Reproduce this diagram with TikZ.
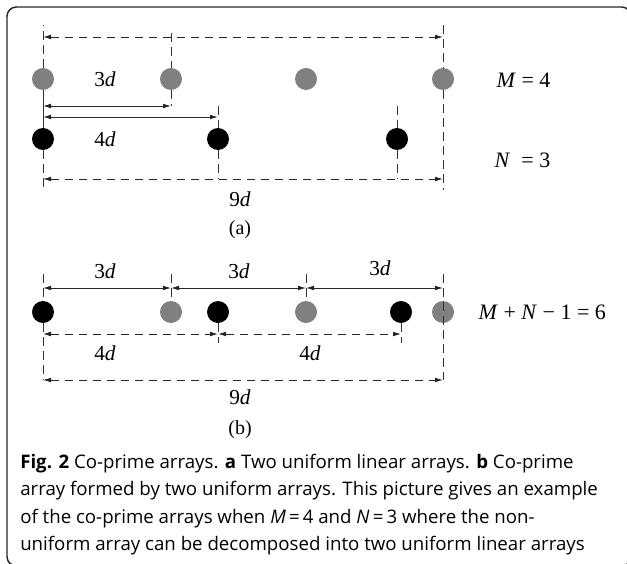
\documentclass[tikz,border=0pt]{standalone}
\usepackage{fontspec}
\setmainfont{Liberation Serif}
\newfontfamily\capfont{Open Sans}
\usetikzlibrary{arrows.meta}

\begin{document}
\begin{tikzpicture}[x=0.75pt, y=-0.75pt,
    elem/.style={circle, inner sep=0pt, minimum size=16.5pt},
    gry/.style={elem, fill=black!50},
    blk/.style={elem, fill=black},
    dim/.style={{Latex[length=6pt,width=3.6pt]}-{Latex[length=6pt,width=3.6pt]}, line width=0.7pt, black!85},
    dimd/.style={dim, dash pattern=on 6.5pt off 4pt},
    guide/.style={line width=0.7pt, dash pattern=on 6.5pt off 4pt, black!80},
    lbl/.style={font=\fontsize{16}{18}\selectfont},
    sub/.style={font=\fontsize{15}{17}\selectfont},
    eqn/.style={font=\fontsize{16.5}{18}\selectfont, anchor=west},
    captxt/.style={font=\capfont\fontsize{14}{16}\selectfont, anchor=base west, inner sep=0pt}
]
    \useasboundingbox (0,0) rectangle (627,563);
    \draw[line width=1.1pt, black!85, rounded corners=7pt] (7,7) rectangle (631,566);

    % (a) two uniform arrays
    \node[gry] (ga1) at (43,79) {};
    \node[gry] (ga2) at (171,79) {};
    \node[gry] (ga3) at (306,79) {};
    \node[gry] (ga4) at (443,79) {};
    \node[blk] (ba1) at (43,139) {};
    \node[blk] (ba2) at (218,139) {};
    \node[blk] (ba3) at (397,139) {};

    \coordinate (aTop) at (0,25);
    \coordinate (aHi) at (0,33);
    \coordinate (aArr) at (0,37);
    \coordinate (aThree) at (0,106);
    \coordinate (aFour) at (0,117);
    \coordinate (aNine) at (0,179);
    \coordinate (aBot) at (0,190);

    \draw[guide] (ga1.north) -- (ga1 |- aTop);
    \draw[line width=0.7pt, black!80] (ga1.south) -- (ba1.north);
    \draw[guide] (ba1.south) -- (ba1 |- aBot);
    \draw[guide] (ga2 |- aHi) -- (ga2.north);
    \draw[guide] (ga2.south) -- (ga2 |- aThree);
    \draw[guide] (ba2 |- aThree) -- (ba2.north);
    \draw[guide] (ba2.south) -- (ba2 |- aNine);
    \draw[guide] (ba3 |- aThree) -- (ba3.north);
    \draw[guide] (ba3.south) -- (ba3 |- aNine);
    \draw[guide] (ga4 |- aTop) -- (ga4.north);
    \draw[guide] (ga4.south) -- (ga4 |- aBot);

    \draw[dimd] (ga1 |- aArr) -- (ga4 |- aArr);
    \draw[dim] (ga1 |- aThree) -- (ga2 |- aThree);
    \draw[dim] (ba1 |- aFour) -- (ba2 |- aFour);
    \draw[dimd] (ba1 |- aNine) -- (ga4 |- aNine);

    \node[lbl] (la3) at (105,79) {3\textit{d}};
    \node[lbl] (la4) at (105,139) {4\textit{d}};
    \node[lbl] (la9) at (240,199) {9\textit{d}};
    \node[sub] (capa) at (240,230) {(a)};
    \node[eqn] (eqm) at (492,80) {\textit{M} = 4};
    \node[eqn] (eqn) at (490,160) {\textit{N} \ = 3};

    % (b) co-prime array
    \node[blk] (bb1) at (43,312) {};
    \node[gry] (gb2) at (171,312) {};
    \node[blk] (bb2) at (218,312) {};
    \node[gry] (gb3) at (306,312) {};
    \node[blk] (bb3) at (401,312) {};
    \node[gry] (gb4) at (443,312) {};

    \coordinate (bTop) at (0,274);
    \coordinate (bArr) at (0,288);
    \coordinate (bTk) at (0,299);
    \coordinate (bFour) at (0,334);
    \coordinate (bTk2) at (0,343);
    \coordinate (bNine) at (0,380);

    \draw[guide] (bb1 |- bTop) -- (bb1.north);
    \draw[guide] (bb1.south) -- (bb1 |- bNine);
    \draw[guide] (gb2 |- bTop) -- (gb2 |- bTk);
    \draw[guide] (gb3 |- bTop) -- (gb3 |- bTk);
    \draw[guide] (bb2.south) -- (bb2 |- bTk2);
    \draw[guide] (bb3.south) -- (bb3 |- bTk2);
    \draw[guide] (gb4 |- bTop) -- (gb4 |- bNine);

    \draw[dim] (bb1 |- bArr) -- (gb2 |- bArr);
    \draw[dim] (gb2 |- bArr) -- (gb3 |- bArr);
    \draw[dim] (gb3 |- bArr) -- (gb4 |- bArr);
    \draw[dimd] (bb1 |- bFour) -- (bb2 |- bFour);
    \draw[dimd] (bb2 |- bFour) -- (bb3 |- bFour);
    \draw[dimd] (bb1 |- bNine) -- (gb4 |- bNine);

    \node[lbl] (lb3a) at (105,271) {3\textit{d}};
    \node[lbl] (lb3b) at (239,271) {3\textit{d}};
    \node[lbl] (lb3c) at (380,268) {3\textit{d}};
    \node[lbl] (lb4a) at (105,353) {4\textit{d}};
    \node[lbl] (lb4b) at (310,353) {4\textit{d}};
    \node[lbl] (lb9) at (240,397) {9\textit{d}};
    \node[sub] (capb) at (240,430) {(b)};
    \node[eqn] (eqmn) at (474,312) {\textit{M} + \textit{N} − 1 = 6};

    % caption
    \node[captxt] (cap1) at (20,468) {\textbf{Fig. 2} Co-prime arrays. \textbf{a} Two uniform linear arrays. \textbf{b} Co-prime};
    \node[captxt] (cap2) at (20,495.5) {array formed by two uniform arrays. This picture gives an example};
    \node[captxt] (cap3) at (20,523) {of the co-prime arrays when \textit{M}\,=\,4 and \textit{N}\,=\,3 where the non-};
    \node[captxt] (cap4) at (20,550.5) {uniform array can be decomposed into two uniform linear arrays};
\end{tikzpicture}
\end{document}
